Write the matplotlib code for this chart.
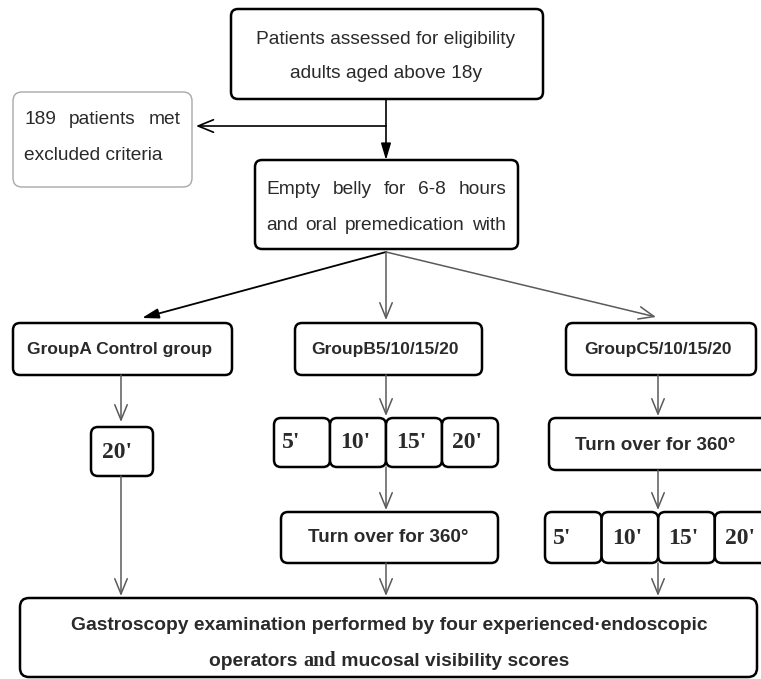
import matplotlib
matplotlib.use("Agg")
import matplotlib.pyplot as plt
from matplotlib.patches import FancyBboxPatch

# ---- text content ----
top_lines = ["Patients assessed for eligibility", "adults aged above 18y"]
excl_lines = ["189 patients met", "excluded criteria"]
prep_lines = ["Empty belly for 6-8 hours", "and oral premedication with"]
group_labels = ["GroupA Control group", "GroupB5/10/15/20", "GroupC5/10/15/20"]
control_time = ["20'"]
time_labels = ["5'", "10'", "15'", "20'"]
turn_label = "Turn over for 360\u00b0"
final_line1 = "Gastroscopy examination performed by four experienced\u00b7endoscopic"
final_line2 = ["operators ", "and", " mucosal visibility scores"]

W, H = 761, 679
fig = plt.figure(figsize=(W / 100, H / 100), dpi=100)
ax = fig.add_axes([0, 0, 1, 1])
ax.set_xlim(0, W)
ax.set_ylim(H, 0)
ax.axis("off")

TXT = "#2a2a2a"
SANS = ["Liberation Sans", "DejaVu Sans"]
SERIF = ["Liberation Serif", "DejaVu Serif"]
GRAY = "#5a5a5a"


def box(x0, y0, x1, y1, ec="black", lw=1.8, r=7):
    p = FancyBboxPatch((x0, y0), x1 - x0, y1 - y0,
                       boxstyle=f"round,pad=0,rounding_size={r}",
                       fc="white", ec=ec, lw=lw, zorder=2)
    ax.add_patch(p)


def arrow(x0, y0, x1, y1, color=GRAY, lw=1.1, style="open"):
    if style == "open":
        st = "->,head_length=1.1,head_width=0.45"
    else:
        st = "-|>,head_length=1.0,head_width=0.3"
    ax.annotate("", xy=(x1, y1), xytext=(x0, y0),
                arrowprops=dict(arrowstyle=st, color=color, lw=lw,
                                shrinkA=0, shrinkB=0), zorder=3)


def justified(text, x0, x1, y, **kw):
    words = text.split()
    fig.canvas.draw()
    r = fig.canvas.get_renderer()
    ts = [ax.text(0, y, w, va="center", ha="left", zorder=4, **kw) for w in words]
    widths = [t.get_window_extent(r).width for t in ts]
    gap = (x1 - x0 - sum(widths)) / max(len(words) - 1, 1)
    x = x0
    for t, w in zip(ts, widths):
        t.set_x(x)
        x += w + gap


FS = 13.8

# ---- top box ----
box(231, 9, 543, 99)
ax.text(386, 40, top_lines[0], ha="center", va="center", fontsize=FS,
        family=SANS, color=TXT, zorder=4)
ax.text(386, 73, top_lines[1], ha="center", va="center", fontsize=FS,
        family=SANS, color=TXT, zorder=4)

# ---- exclusion box ----
box(13, 92, 192, 187, ec="#a8a8a8", lw=1.0, r=9)
justified(excl_lines[0], 24, 181, 120, fontsize=FS, family=SANS, color=TXT)
ax.text(24, 156, excl_lines[1], ha="left", va="center", fontsize=FS,
        family=SANS, color=TXT, zorder=4)

# arrows from top box
arrow(386, 99, 386, 160, color="black", lw=1.2, style="filled")
arrow(386, 126, 196, 126, color="black", lw=1.2, style="open")

# ---- preparation box ----
box(255, 160, 518, 249)
justified(prep_lines[0], 266, 506, 190, fontsize=FS, family=SANS, color=TXT)
justified(prep_lines[1], 266, 506, 225, fontsize=FS, family=SANS, color=TXT)

# branching arrows
arrow(386, 252, 142, 318, color="black", lw=1.3, style="filled")
arrow(386, 252, 386, 320, color=GRAY, lw=1.1)
arrow(386, 252, 656, 317, color=GRAY, lw=1.1)

# ---- group boxes ----
gboxes = [(13, 323, 232, 375), (295, 323, 482, 375), (566, 323, 756, 375)]
for (x0, y0, x1, y1), lab in zip(gboxes, group_labels):
    box(x0, y0, x1, y1)
    ax.text((x0 + x1) / 2 - 3, (y0 + y1) / 2 + 0.5, lab, ha="center", va="center",
            fontsize=12.5, fontweight="bold", family=SANS, color=TXT, zorder=4)

# ---- group A ----
arrow(121, 375, 121, 422)
box(91, 427, 153, 476)
ax.text(117, 452, control_time[0], ha="center", va="center", fontsize=17,
        fontweight="bold", family=SERIF, color=TXT, zorder=4)
arrow(121, 476, 121, 596)

# ---- group B ----
arrow(386, 375, 386, 416)
bx0, bw = 274, 56
for i, lab in enumerate(time_labels):
    x0 = bx0 + i * bw
    box(x0, 418, x0 + bw, 467)
    ax.text(x0 + 8 if i == 0 else x0 + bw / 2 - 3, 443, lab,
            ha="left" if i == 0 else "center", va="center", fontsize=17,
            fontweight="bold", family=SERIF, color=TXT, zorder=4)
arrow(386, 467, 386, 510)
box(281, 512, 498, 563)
ax.text(388, 538, turn_label, ha="center", va="center", fontsize=13.6,
        fontweight="bold", family=SANS, color=TXT, zorder=4)
arrow(386, 563, 386, 596)

# ---- group C ----
arrow(658, 375, 658, 416)
box(549, 418, 768, 470)
ax.text(655, 445, turn_label, ha="center", va="center", fontsize=13.6,
        fontweight="bold", family=SANS, color=TXT, zorder=4)
arrow(658, 470, 658, 510)
cx0, cw = 545, 56.6
for i, lab in enumerate(time_labels):
    x0 = cx0 + i * cw
    box(x0, 512, x0 + cw, 563)
    ax.text(x0 + 8 if i == 0 else x0 + cw / 2 - 3, 538, lab,
            ha="left" if i == 0 else "center", va="center", fontsize=17,
            fontweight="bold", family=SERIF, color=TXT, zorder=4)
arrow(658, 563, 658, 596)

# ---- final box ----
box(20, 598, 757, 677, r=9)
ax.text(389, 626, final_line1, ha="center", va="center", fontsize=13.9,
        fontweight="bold", family=SANS, color=TXT, zorder=4)
# second line with mixed font
fig.canvas.draw()
rend = fig.canvas.get_renderer()
fams = [SANS, SERIF, SANS]
parts = [ax.text(0, 661, s, ha="left", va="center", fontsize=13.9 if f is SANS else 14.5,
                 fontweight="bold", family=f, color=TXT, zorder=4)
         for s, f in zip(final_line2, fams)]
ws = [p.get_window_extent(rend).width for p in parts]
x = 389 - sum(ws) / 2
for p, w in zip(parts, ws):
    p.set_x(x)
    x += w

fig.savefig("out.png", dpi=100)
